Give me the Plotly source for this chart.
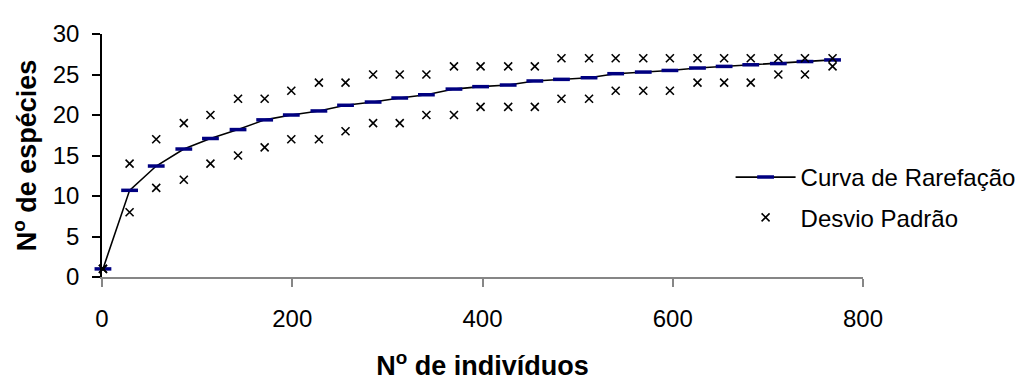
import plotly.graph_objects as go

# Data
individuos = [1, 29, 57, 86, 114, 143, 171, 199, 228, 256, 285, 313, 341, 370,
              398, 427, 455, 483, 512, 540, 569, 597, 626, 654, 682, 711, 739, 768]
curva = [1, 10.7, 13.7, 15.8, 17.1, 18.2, 19.4, 20.0, 20.5, 21.2, 21.6, 22.1, 22.5, 23.2,
         23.5, 23.7, 24.2, 24.4, 24.6, 25.1, 25.3, 25.5, 25.8, 26.0, 26.2, 26.35, 26.6, 26.8]
desvio_sup = [1, 14, 17, 19, 20, 22, 22, 23, 24, 24, 25, 25, 25, 26,
              26, 26, 26, 27, 27, 27, 27, 27, 27, 27, 27, 27, 27, 27]
desvio_inf = [1, 8, 11, 12, 14, 15, 16, 17, 17, 18, 19, 19, 20, 20,
              21, 21, 21, 22, 22, 23, 23, 23, 24, 24, 24, 25, 25, 26]
x_ticks = [0, 200, 400, 600, 800]
y_ticks = [0, 5, 10, 15, 20, 25, 30]

FONT = "Liberation Sans, Arial, sans-serif"

fig = go.Figure()
fig.add_trace(go.Scatter(
    x=individuos, y=curva, mode="lines+markers", name="Curva de Rarefação",
    line=dict(color="black", width=1.6),
    marker=dict(symbol="line-ew", size=12, color="#000080",
                line=dict(color="#000080", width=3.5)),
    legendgroup="a", cliponaxis=False,
))
fig.add_trace(go.Scatter(
    x=individuos + individuos, y=desvio_sup + desvio_inf, mode="markers",
    name="Desvio Padrão",
    marker=dict(symbol="x-thin", size=8, color="black",
                line=dict(color="black", width=1.6)),
    legendgroup="b", cliponaxis=False,
))

fig.update_layout(
    width=1025, height=380,
    margin=dict(l=93, r=156, t=15, b=102),
    paper_bgcolor="white", plot_bgcolor="white",
    font=dict(family=FONT, size=24, color="black"),
    showlegend=True,
    legend=dict(x=0.826, y=0.502, xanchor="left", yanchor="top",
                bgcolor="rgba(0,0,0,0)", font=dict(size=24),
                traceorder="grouped", tracegroupgap=6, itemwidth=60),
    xaxis=dict(range=[0, 800], tickvals=x_ticks, showgrid=False, zeroline=False,
               showline=True, linecolor="#868686", linewidth=1.5,
               ticks="outside", ticklen=8, tickcolor="#868686", tickwidth=1.5,
               ticklabelstandoff=11,
               title=dict(text="<b>N<sup>o</sup> de indivíduos</b>", standoff=26,
                          font=dict(size=27))),
    yaxis=dict(range=[0, 30], tickvals=y_ticks, showgrid=False, zeroline=False,
               showline=True, linecolor="black", linewidth=1.5,
               ticks="outside", ticklen=8, tickcolor="black", tickwidth=1.5,
               ticklabelstandoff=8,
               title=dict(text="<b>N<sup>o</sup> de espécies</b>", standoff=14,
                          font=dict(size=27))),
)

fig.write_html("out.html")
